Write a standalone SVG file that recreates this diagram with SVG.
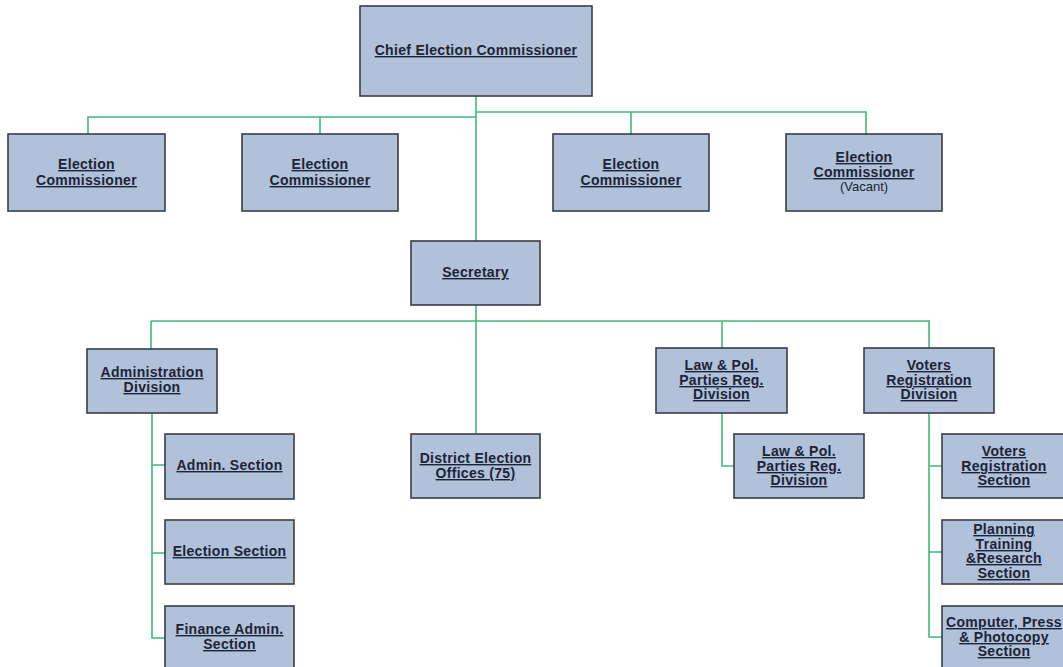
<svg xmlns="http://www.w3.org/2000/svg" width="1063" height="667" viewBox="0 0 1063 667">
<style>
.box{fill:#b0c1d9;stroke:#3b3e45;stroke-width:1.6}
.t{font-family:"Liberation Sans",Arial,sans-serif;font-size:14px;letter-spacing:0.3px;font-weight:bold;fill:#1c2438;text-anchor:middle;text-decoration:underline}
.n{font-family:"Liberation Sans",Arial,sans-serif;font-size:13px;fill:#1c2438;text-anchor:middle}
.c{fill:none;stroke:#3dbb7a;stroke-width:1.6}
</style>
<rect width="1063" height="667" fill="#ffffff"/>
<g id="connectors">
<path class="c" d="M476 96V434"/>
<path class="c" d="M476 117H88V134M320 117V134"/>
<path class="c" d="M476 112H866V134M631 112V134"/>
<path class="c" d="M151 321H929V348M151 321V349M722 321V348"/>
<path class="c" d="M152 413V638H165M152 465H165M152 553H165"/>
<path class="c" d="M722 413V466H734"/>
<path class="c" d="M929 413V637H942M929 466H942M929 552H942"/>
</g>
<g id="chief"><rect class="box" x="360" y="6" width="232" height="90"/><text class="t" x="476" y="55">Chief Election Commissioner</text></g>
<g id="ec1"><rect class="box" x="8" y="134" width="157" height="77"/><text class="t" x="86.5" y="169">Election</text><text class="t" x="86.5" y="185">Commissioner</text></g>
<g id="ec2"><rect class="box" x="242" y="134" width="156" height="77"/><text class="t" x="320" y="169">Election</text><text class="t" x="320" y="185">Commissioner</text></g>
<g id="ec3"><rect class="box" x="553" y="134" width="156" height="77"/><text class="t" x="631" y="169">Election</text><text class="t" x="631" y="185">Commissioner</text></g>
<g id="ec4"><rect class="box" x="786" y="134" width="156" height="77"/><text class="t" x="864" y="162">Election</text><text class="t" x="864" y="177">Commissioner</text><text class="n" x="864" y="191">(Vacant)</text></g>
<g id="secretary"><rect class="box" x="411" y="241" width="129" height="64"/><text class="t" x="475.5" y="277">Secretary</text></g>
<g id="admin-div"><rect class="box" x="87" y="349" width="130" height="64"/><text class="t" x="152" y="377">Administration</text><text class="t" x="152" y="392">Division</text></g>
<g id="admin-sec"><rect class="box" x="165" y="434" width="129" height="65"/><text class="t" x="229.5" y="470">Admin. Section</text></g>
<g id="election-sec"><rect class="box" x="165" y="520" width="129" height="64"/><text class="t" x="229.5" y="556">Election Section</text></g>
<g id="finance-sec"><rect class="box" x="165" y="606" width="129" height="70"/><text class="t" x="229.5" y="634">Finance Admin.</text><text class="t" x="229.5" y="649">Section</text></g>
<g id="district"><rect class="box" x="411" y="434" width="129" height="64"/><text class="t" x="475.5" y="463">District Election</text><text class="t" x="475.5" y="478">Offices (75)</text></g>
<g id="law-div"><rect class="box" x="656" y="348" width="131" height="65"/><text class="t" x="721.5" y="370">Law &amp; Pol.</text><text class="t" x="721.5" y="385">Parties Reg.</text><text class="t" x="721.5" y="399">Division</text></g>
<g id="law-sub"><rect class="box" x="734" y="434" width="130" height="64"/><text class="t" x="799" y="456">Law &amp; Pol.</text><text class="t" x="799" y="471">Parties Reg.</text><text class="t" x="799" y="485">Division</text></g>
<g id="voters-div"><rect class="box" x="864" y="348" width="130" height="65"/><text class="t" x="929" y="370">Voters</text><text class="t" x="929" y="385">Registration</text><text class="t" x="929" y="399">Division</text></g>
<g id="voters-sec"><rect class="box" x="942" y="434" width="130" height="64"/><text class="t" x="1004" y="456">Voters</text><text class="t" x="1004" y="471">Registration</text><text class="t" x="1004" y="485">Section</text></g>
<g id="planning"><rect class="box" x="942" y="520" width="130" height="64"/><text class="t" x="1004" y="534">Planning</text><text class="t" x="1004" y="549">Training</text><text class="t" x="1004" y="563">&amp;Research</text><text class="t" x="1004" y="578">Section</text></g>
<g id="computer"><rect class="box" x="942" y="606" width="130" height="70"/><text class="t" x="1004" y="627">Computer, Press</text><text class="t" x="1004" y="642">&amp; Photocopy</text><text class="t" x="1004" y="656">Section</text></g>
</svg>
